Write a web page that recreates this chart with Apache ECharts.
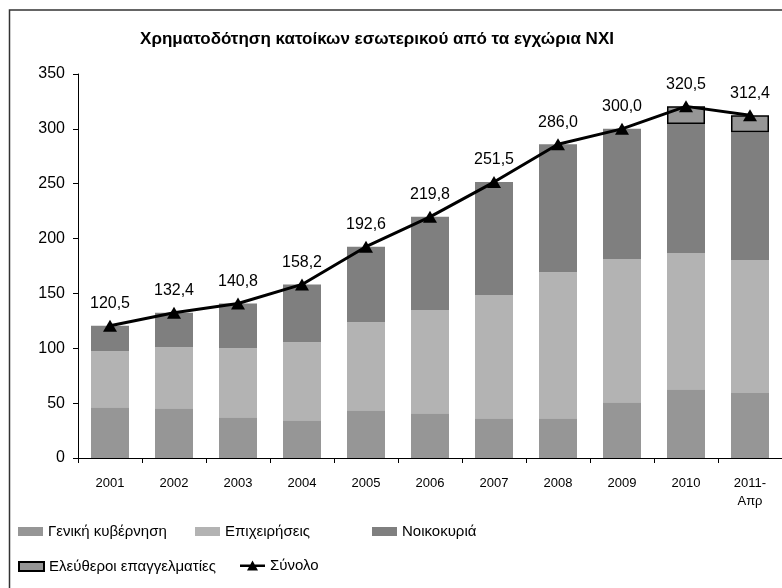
<!DOCTYPE html>
<html>
<head>
<meta charset="utf-8">
<script src="https://cdn.jsdelivr.net/npm/echarts@6/dist/echarts.min.js"></script>
<style>
  html, body { margin: 0; padding: 0; background: #fff; }
  #chart { width: 782px; height: 588px; }
</style>
</head>
<body>
<div id="chart"></div>
<script>
// δεδομένα (δισ. ευρώ)
const years = ['2001', '2002', '2003', '2004', '2005', '2006', '2007', '2008', '2009', '2010', '2011-\nΑπρ'];
const government = [46.2, 45.3, 37.1, 34.4, 43.5, 40.8, 36.3, 36.3, 50.8, 62.7, 59.3];
const business = [51.2, 55.7, 63.0, 71.2, 80.3, 94.0, 112.2, 133.1, 130.5, 124.1, 121.1];
const households = [23.1, 31.4, 40.7, 52.6, 68.8, 85.0, 103.0, 116.6, 118.7, 117.7, 116.6];
const freelancers = [null, null, null, null, null, null, null, null, null, 16.0, 15.4];
const total = [120.5, 132.4, 140.8, 158.2, 192.6, 219.8, 251.5, 286.0, 300.0, 320.5, 312.4];
const yTicks = { min: 0, max: 350, step: 50 };

const font = "'Liberation Sans', Arial, sans-serif";
// εικονίδιο γραμμής με τρίγωνο για το "Σύνολο"
const lineIcon = 'path://M0,7L25,7L25,9.5L0,9.5Z M7,13L12.5,3L18,13Z';

const chart = echarts.init(document.getElementById('chart'));

// ένα legend ανά στοιχείο για να μπουν στις θέσεις του πρωτοτύπου
function legendAt(name, left, top, icon, h) {
  return {
    data: [{ name: name, icon: icon }],
    left: left,
    top: top,
    padding: 0,
    itemWidth: 25,
    itemHeight: h,
    selectedMode: false,
    textStyle: { fontFamily: font, fontSize: 15, color: '#000' }
  };
}

const option = {
  animation: false,
  backgroundColor: '#fff',
  title: {
    text: 'Χρηματοδότηση κατοίκων εσωτερικού από τα εγχώρια NXI',
    left: 372,
    top: 26,
    textAlign: 'center',
    textStyle: { fontFamily: font, fontSize: 17, fontWeight: 'bold', color: '#000' }
  },
  graphic: [{
    type: 'rect',
    shape: { x: 9.5, y: 10, width: 800, height: 600 },
    style: { fill: 'none', stroke: '#333', lineWidth: 1.5 },
    silent: true
  }],
  legend: [
    legendAt('Γενική κυβέρνηση', 18, 524, 'rect', 9),
    legendAt('Επιχειρήσεις', 195, 524, 'rect', 9),
    legendAt('Νοικοκυριά', 372, 524, 'rect', 9),
    legendAt('Ελεύθεροι επαγγελματίες', 18, 559, 'rect', 9),
    legendAt('Σύνολο', 240, 558, lineIcon, 14)
  ],
  grid: { left: 78, right: 0, top: 74, bottom: 130 },
  xAxis: {
    type: 'category',
    data: years,
    axisLine: { lineStyle: { color: '#000', width: 1 } },
    axisTick: { show: true, length: 5, lineStyle: { color: '#000' } },
    axisLabel: { color: '#000', fontFamily: font, fontSize: 13, margin: 16, lineHeight: 18, interval: 0 }
  },
  yAxis: {
    type: 'value',
    min: yTicks.min,
    max: yTicks.max,
    interval: yTicks.step,
    axisLine: { show: true, lineStyle: { color: '#000', width: 1 } },
    axisTick: { show: true, length: 5, lineStyle: { color: '#000' } },
    splitLine: { show: false },
    axisLabel: { color: '#000', fontFamily: font, fontSize: 16, margin: 13 }
  },
  series: [
    {
      name: 'Γενική κυβέρνηση', type: 'bar', stack: 'nxi', barWidth: 38,
      itemStyle: { color: '#969696' }, data: government
    },
    {
      name: 'Επιχειρήσεις', type: 'bar', stack: 'nxi', barWidth: 38,
      itemStyle: { color: '#b3b3b3' }, data: business
    },
    {
      name: 'Νοικοκυριά', type: 'bar', stack: 'nxi', barWidth: 38,
      itemStyle: { color: '#7f7f7f' }, data: households
    },
    {
      name: 'Ελεύθεροι επαγγελματίες', type: 'bar', stack: 'nxi', barWidth: 38,
      itemStyle: { color: '#969696', borderColor: '#000', borderWidth: 1.5 }, data: freelancers
    },
    {
      name: 'Σύνολο', type: 'line', data: total,
      symbol: 'triangle', symbolSize: [14, 12],
      lineStyle: { color: '#000', width: 3 },
      itemStyle: { color: '#000' },
      label: {
        show: true, position: 'top', distance: 8,
        fontFamily: font, fontSize: 16, color: '#000',
        formatter: p => p.value.toFixed(1).replace('.', ',')
      },
      z: 5
    }
  ]
};

chart.setOption(option);
window.addEventListener('resize', () => chart.resize());
</script>
</body>
</html>
